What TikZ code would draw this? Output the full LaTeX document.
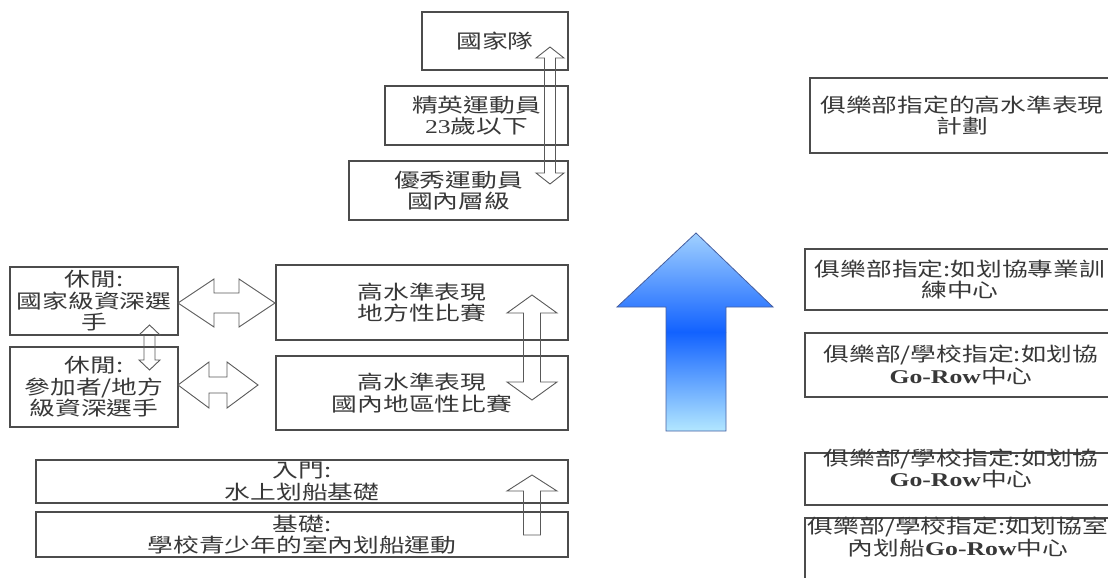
\documentclass[tikz,border=0pt]{standalone}
\usepackage{fontspec}
\setmainfont{Noto Sans CJK TC}[FakeStretch=1.32]
\newfontfamily\latfont{Liberation Serif}[FakeStretch=1.32]

\definecolor{boxline}{gray}{0.30}
\definecolor{arrowline}{gray}{0.35}
\definecolor{txtgray}{gray}{0.22}
\definecolor{bluetop}{RGB}{165,212,255}
\definecolor{bluemid}{RGB}{18,98,255}
\definecolor{bluebot}{RGB}{185,236,255}
\definecolor{blueline}{RGB}{70,95,160}

\tikzset{
  box/.style={draw=boxline, line width=1.1pt, inner sep=0pt, align=center,
    text=txtgray, font={\fontsize{19.5}{21.5}\selectfont}},
  boxtext/.style={inner sep=0pt, align=center, text=txtgray,
    font={\fontsize{19.5}{21.5}\selectfont}},
  blockarrow/.style={draw=arrowline, line width=0.9pt},
}

% vertical double arrow: centre x, top tip, bottom tip, head half width, shaft half width, head length
\newcommand\vdoublearrow[6]{%
  \draw[blockarrow] (#1,#2) -- (#1+#4,#2+#6) -- (#1+#5,#2+#6) -- (#1+#5,#3-#6)
    -- (#1+#4,#3-#6) -- (#1,#3) -- (#1-#4,#3-#6) -- (#1-#5,#3-#6)
    -- (#1-#5,#2+#6) -- (#1-#4,#2+#6) -- cycle;}
% horizontal double arrow: centre y, left tip, right tip, head half height, shaft half height, head length
\newcommand\hdoublearrow[6]{%
  \draw[blockarrow] (#2,#1) -- (#2+#6,#1-#4) -- (#2+#6,#1-#5) -- (#3-#6,#1-#5)
    -- (#3-#6,#1-#4) -- (#3,#1) -- (#3-#6,#1+#4) -- (#3-#6,#1+#5)
    -- (#2+#6,#1+#5) -- (#2+#6,#1+#4) -- cycle;}
% up arrow: centre x, tip, bottom, head half width, shaft half width, head length
\newcommand\uparrowshape[6]{%
  \draw[blockarrow] (#1,#2) -- (#1+#4,#2+#6) -- (#1+#5,#2+#6) -- (#1+#5,#3)
    -- (#1-#5,#3) -- (#1-#5,#2+#6) -- (#1-#4,#2+#6) -- cycle;}

\begin{document}
\begin{tikzpicture}[x=1pt, y=-1pt]

  \useasboundingbox (0,0) rectangle (1108,578);
  \clip (0,0) rectangle (1108,578);

  % ---------------- top ladder ----------------
  \node[box, minimum width=146pt, minimum height=58pt] (team) at (495,41) {國家隊};
  \node[box, minimum width=183pt, minimum height=59pt] (elite) at (476.5,115.5)
    {精英運動員\\{\latfont 23}歲以下};
  \node[box, minimum width=219pt, minimum height=59pt] (national) at (458.5,190.5)
    {優秀運動員\\國內層級};
  \vdoublearrow{550}{47}{184}{14}{5.5}{11}

  % ---------------- recreation and competition ----------------
  \node[box, minimum width=168pt, minimum height=68pt] (masters) at (94,301)
    {休閒:\\國家級資深選\\手};
  \node[box, minimum width=168pt, minimum height=80pt] (club) at (94,387)
    {休閒:\\參加者/地方\\級資深選手};
  \node[box, minimum width=292pt, minimum height=75pt] (regional) at (422,302.5)
    {高水準表現\\地方性比賽};
  \node[box, minimum width=292pt, minimum height=74pt] (district) at (422,393)
    {高水準表現\\國內地區性比賽};
  \vdoublearrow{149.5}{325}{370}{10.5}{5.5}{10}
  \hdoublearrow{303}{178}{275}{24}{10}{36}
  \hdoublearrow{385}{178}{258}{23}{8}{31}
  \vdoublearrow{532}{295}{400}{25}{8.5}{18}

  % ---------------- base ----------------
  \node[box, minimum width=532pt, minimum height=43pt] (entry) at (302,481.5)
    {入門:\\水上划船基礎};
  \node[box, minimum width=532pt, minimum height=45pt] (basics) at (302,534.5)
    {基礎:\\學校青少年的室內划船運動};
  \uparrowshape{532}{475}{535}{25}{8.5}{16}

  % ---------------- big pathway arrow ----------------
  % drawn with y upwards so the shading runs the right way
  \begin{scope}[y=1pt]
    \begin{scope}
      \clip (696,-233) -- (773,-307) -- (726,-307) -- (726,-431) -- (666,-431)
        -- (666,-307) -- (617,-307) -- cycle;
      \shade[top color=bluetop, bottom color=bluemid] (610,-230) rectangle (780,-332);
      \shade[top color=bluemid, bottom color=bluebot] (610,-332) rectangle (780,-435);
    \end{scope}
    \draw[blueline, line width=0.8pt]
      (696,-233) -- (773,-307) -- (726,-307) -- (726,-431) -- (666,-431)
      -- (666,-307) -- (617,-307) -- cycle;
  \end{scope}

  % ---------------- club programmes ----------------
  \node[box, minimum width=304pt, minimum height=75pt] (program) at (962,115.5)
    {俱樂部指定的高水準表現\\計劃};
  \node[box, minimum width=310pt, minimum height=61pt] (centre) at (960,279.5)
    {俱樂部指定:如划協專業訓\\練中心};
  \node[box, minimum width=312pt, minimum height=64pt] (gorow) at (961,365)
    {俱樂部/學校指定:如划協\\{\latfont\bfseries Go-Row}中心};
  \node[box, minimum width=312pt, minimum height=52pt] (gorowb) at (961,479) {};
  \node[boxtext, anchor=north] (gorowbtxt) at (961,448.5)
    {俱樂部/學校指定:如划協\\{\latfont\bfseries Go-Row}中心};
  \node[box, minimum width=312pt, minimum height=82pt] (indoor) at (961,559) {};
  \node[boxtext, anchor=north] (indoortxt) at (958,517)
    {俱樂部/學校指定:如划協室\\內划船{\latfont\bfseries Go-Row}中心};

\end{tikzpicture}
\end{document}
